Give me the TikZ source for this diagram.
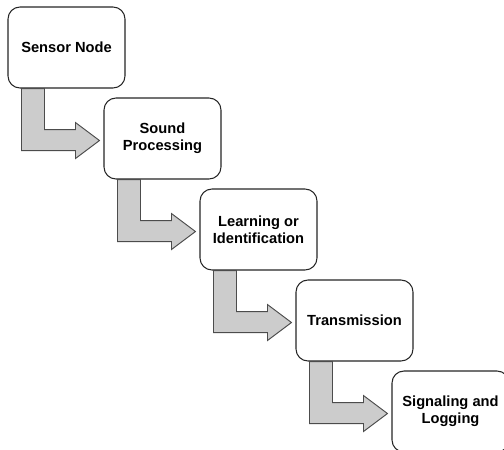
\documentclass[tikz,border=0pt]{standalone}
\usepackage{fontspec}
\setmainfont{Liberation Sans}
\begin{document}
\begin{tikzpicture}[x=0.75pt,y=-0.75pt,
  box/.style={draw=black!85, line width=0.8pt, rounded corners=9pt, fill=white,
    minimum width=87.75pt, minimum height=60.75pt, inner sep=0pt,
    align=center, font=\fontsize{11}{12.6}\selectfont\bfseries},
  blockarr/.style={draw=black!70, line width=0.7pt, fill=black!20, line join=miter}]
\useasboundingbox (0,0) rectangle (504,450);
\clip (0,0) rectangle (504,450);
\node[box] (b1) at (66.5,47.5) {Sensor Node};
\node[box] (b2) at (162.5,138.5) {Sound\\Processing};
\node[box] (b3) at (258.5,229.5) {Learning or\\Identification};
\node[box] (b4) at (354.5,320.5) {Transmission};
\node[box] (b5) at (450.5,411.5) {Signaling and\\Logging};
\foreach \s in {b1,b2,b3,b4}{
  \draw[blockarr, shift={(\s.south west)}]
    (14,0) -- (14,62) -- (68,62) -- (68,70) -- (92,52) -- (68,34) -- (68,41)
    -- (37,41) -- (37,0) -- cycle;
}
\end{tikzpicture}
\end{document}
